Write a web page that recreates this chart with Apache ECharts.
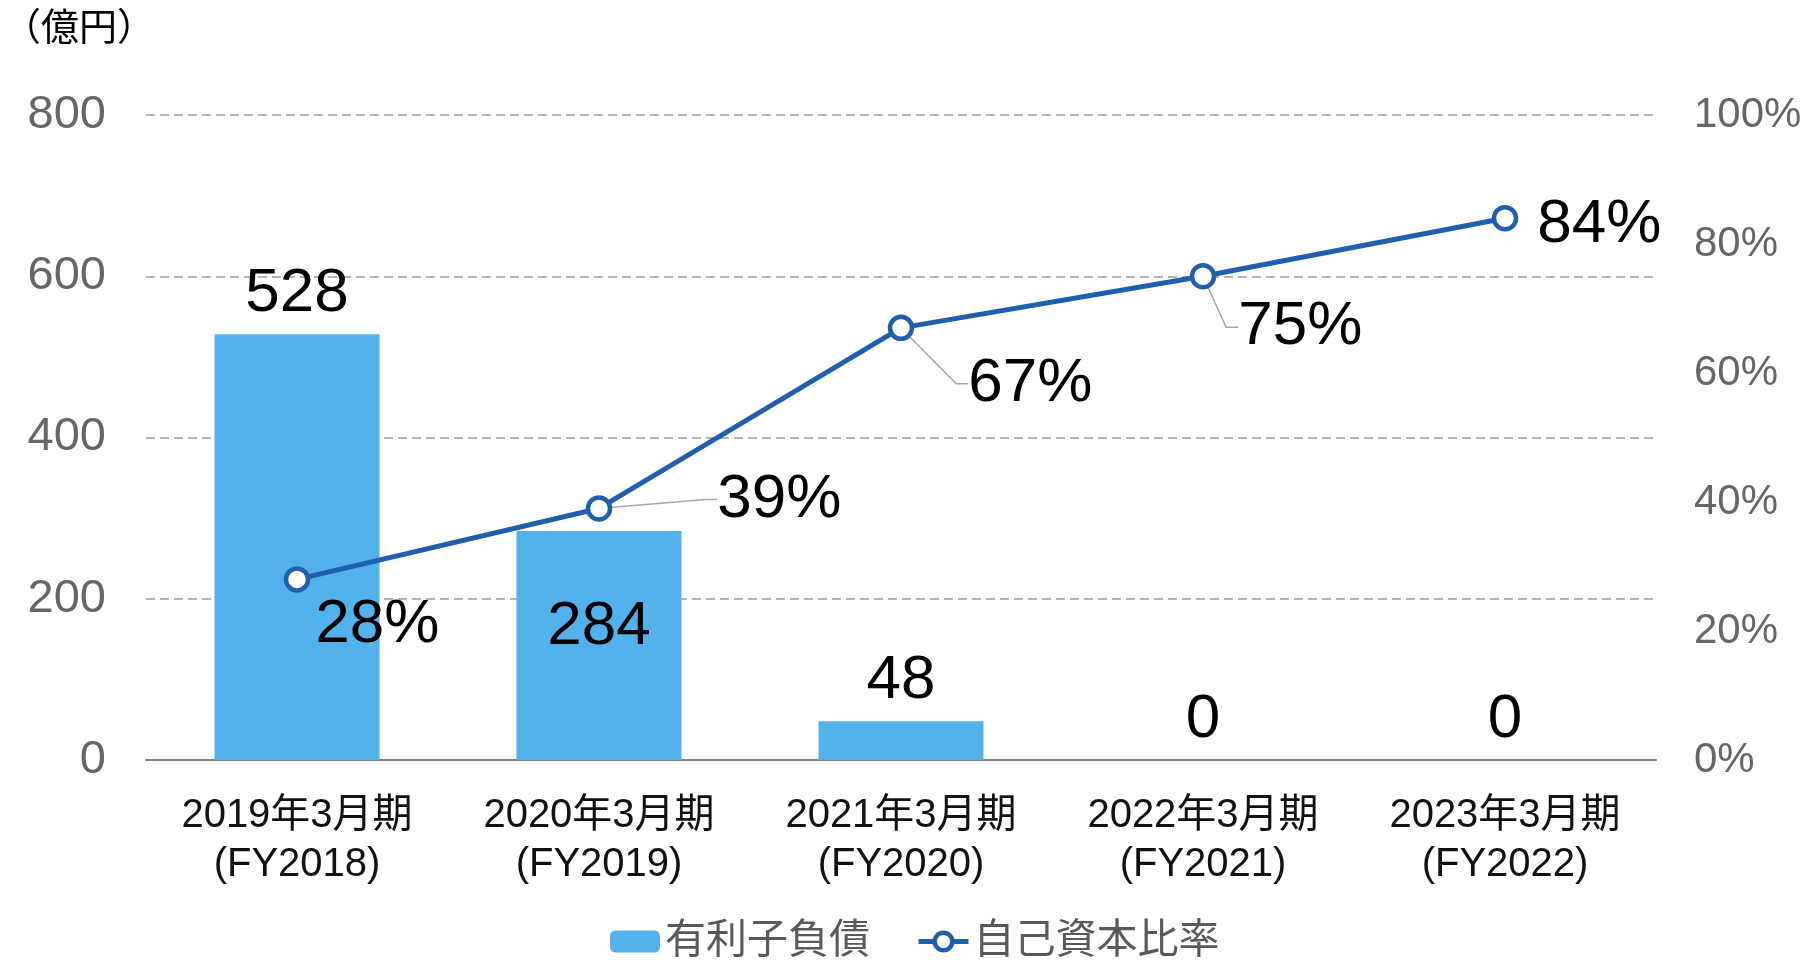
<!DOCTYPE html>
<html>
<head>
<meta charset="utf-8">
<script src="https://cdn.jsdelivr.net/npm/echarts@6/dist/echarts.min.js"></script>
<style>
  html, body { margin: 0; padding: 0; background: #fff; }
  #main { width: 1807px; height: 960px; }
</style>
</head>
<body>
<div id="main"></div>
<script>
// データ
var categories = ['2019年3月期\n(FY2018)', '2020年3月期\n(FY2019)', '2021年3月期\n(FY2020)', '2022年3月期\n(FY2021)', '2023年3月期\n(FY2022)'];
var debt = [528, 284, 48, 0, 0];        // 有利子負債（億円）
var equityRatio = [28, 39, 67, 75, 84]; // 自己資本比率（%）
var leftTicks = [0, 200, 400, 600, 800];
var rightTicks = [0, 20, 40, 60, 80, 100];

var FONT = '"Liberation Sans", "Noto Sans CJK JP", sans-serif';
var BAR = '#53b1ec';
var LINE = '#1f5fae';

var myChart = echarts.init(document.getElementById('main'));

// 折れ線ラベルのずらし量（dx, dy）
var shift = [[0, 46], [100, -9], [49, 56], [17, 51], [14, 7]];

var option = {
  animation: false,
  title: {
    text: '（億円）',
    left: -2,
    top: 6,
    textStyle: { fontFamily: FONT, fontSize: 38, fontWeight: 'normal', color: '#000' }
  },
  legend: {
    left: 605,
    top: 916,
    itemWidth: 50,
    itemHeight: 22,
    itemGap: 46,
    textStyle: { fontFamily: FONT, fontSize: 41, color: '#595959' },
    data: [
      { name: '有利子負債' },
      { name: '自己資本比率', lineStyle: { width: 5 }, itemStyle: { borderWidth: 4.5 } }
    ]
  },
  grid: { left: 146, right: 151, top: 115, bottom: 200 },
  xAxis: {
    type: 'category',
    data: categories,
    axisTick: { show: false },
    axisLine: { lineStyle: { color: '#808080', width: 2 } },
    axisLabel: { fontFamily: FONT, fontSize: 40, color: '#111', margin: 31, lineHeight: 49 }
  },
  yAxis: [
    {
      type: 'value',
      min: leftTicks[0],
      max: leftTicks[leftTicks.length - 1],
      interval: 200,
      axisLine: { show: false },
      axisTick: { show: false },
      axisLabel: { fontFamily: FONT, fontSize: 47, color: '#666', margin: 40 },
      splitLine: { lineStyle: { color: '#9a9a9a', width: 1.5, type: [9, 5] } }
    },
    {
      type: 'value',
      min: rightTicks[0],
      max: rightTicks[rightTicks.length - 1],
      interval: 20,
      axisLine: { show: false },
      axisTick: { show: false },
      splitLine: { show: false },
      axisLabel: { fontFamily: FONT, fontSize: 42, color: '#666', margin: 38, formatter: '{value}%' }
    }
  ],
  series: [
    {
      name: '有利子負債',
      type: 'bar',
      barWidth: 165,
      itemStyle: { color: BAR },
      label: {
        show: true,
        position: 'top',
        distance: 9,
        fontFamily: FONT,
        fontSize: 62,
        color: '#000'
      },
      data: debt.map(function (v, i) {
        if (i === 1) {
          return { value: v, label: { position: 'insideTop', distance: 65 } };
        }
        return v;
      })
    },
    {
      name: '自己資本比率',
      type: 'line',
      yAxisIndex: 1,
      symbol: 'circle',
      symbolSize: 22,
      lineStyle: { color: LINE, width: 5 },
      itemStyle: { color: '#fff', borderColor: LINE, borderWidth: 4.5 },
      z: 5,
      label: {
        show: true,
        position: 'right',
        distance: 5,
        fontFamily: FONT,
        fontSize: 62,
        color: '#000',
        formatter: '{c}%'
      },
      labelLine: {
        show: true,
        length2: 12,
        lineStyle: { color: '#a6a6a6', width: 1.5 }
      },
      labelLayout: function (p) {
        var s = shift[p.dataIndex];
        return { dx: s[0], dy: s[1] };
      },
      data: equityRatio.map(function (v, i) {
        if (i === 0 || i === 4) {
          return { value: v, labelLine: { show: false } };
        }
        return v;
      })
    }
  ]
};

myChart.setOption(option);
</script>
</body>
</html>
